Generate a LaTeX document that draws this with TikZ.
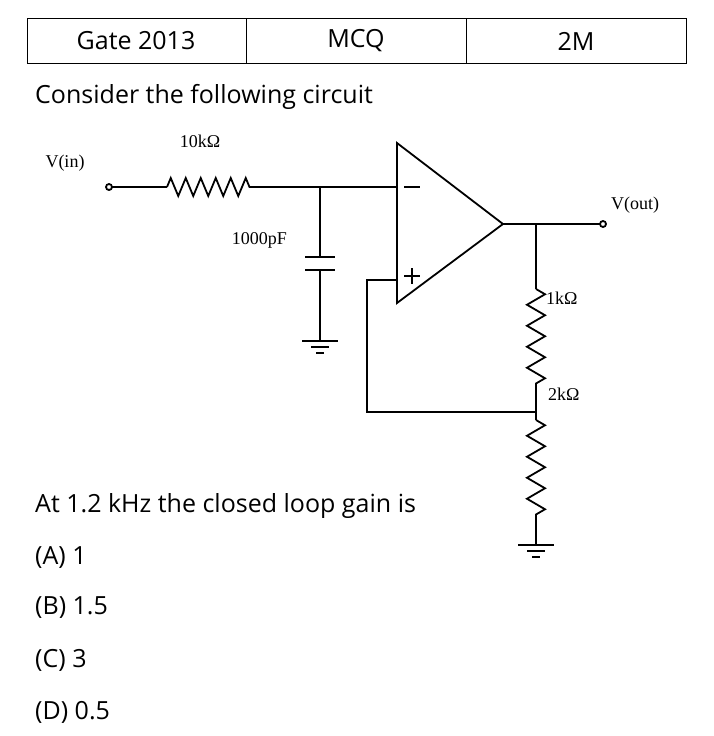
\documentclass[tikz,border=0pt]{standalone}
\usepackage{fontspec}
\setmainfont{Open Sans}
\newfontfamily\tms{Liberation Serif}
\usetikzlibrary{decorations.pathmorphing}
\begin{document}
\begin{tikzpicture}[x=1pt,y=-1pt,
  wire/.style={line width=1.8pt},
  res/.style={line width=1.8pt,decorate,decoration={zigzag,amplitude=9pt,segment length=15pt}},
  vres/.style={line width=1.8pt,decorate,decoration={zigzag,amplitude=9pt,segment length=21pt}},
  lbl/.style={font=\tms\fontsize{18}{20}\selectfont,inner sep=0pt},
  txt/.style={font=\fontsize{25}{30}\selectfont,anchor=west,inner sep=0pt},
  cell/.style={font=\fontsize{25}{30}\selectfont,inner sep=0pt}]
\useasboundingbox (0,0) rectangle (713,736);
\fill[white] (0,0) rectangle (713,736);
% table
\draw[line width=0.8pt] (27,18) rectangle (686,63);
\draw[line width=0.8pt] (246,18) -- (246,63) (466,18) -- (466,63);
\node[cell] (c1) at (136,41) {Gate 2013};
\node[cell] (c2) at (356,41) {MCQ};
\node[cell] (c3) at (576,41) {2M};
\node[txt] (q) at (35,97) {Consider the following circuit};
% coordinates
\coordinate (vin) at (109,187);
\coordinate (r1a) at (167,187);
\coordinate (r1b) at (251,187);
\coordinate (cn) at (320,187);
\coordinate (inm) at (397,187);
\coordinate (out) at (503,224);
\coordinate (on) at (536,224);
\coordinate (vout) at (603,224);
\coordinate (r2a) at (536,289);
\coordinate (fb) at (536,412);
\coordinate (r3a) at (536,420);
\coordinate (r3b) at (536,524);
% input
\draw[wire] (vin) ++(3,0) -- (r1a);
\draw[res] (r1a) -- (r1b);
\draw[wire] (r1b) -- (inm);
\draw[wire,fill=white] (vin) circle (3);
% capacitor
\draw[wire] (cn) -- (320,257);
\draw[wire] (305,257) -- (335,257) (305,270) -- (335,270);
\draw[wire] (320,270) -- (320,341);
\draw[wire] (302,341) -- (338,341) (311,347) -- (329,347) (316,353) -- (324,353);
% opamp
\draw[wire] (397,143) -- (503,224) -- (397,303) -- cycle;
\draw[wire] (404,187) -- (420,187);
\draw[wire] (404,276) -- (420,276) (412,268) -- (412,284);
% output
\draw[wire] (out) -- (600,224);
\draw[wire,fill=white] (vout) circle (3);
\draw[wire] (on) -- (r2a);
\draw[vres] (r2a) -- (536,389);
\draw[wire] (536,389) -- (r3a);
\draw[vres] (r3a) -- (r3b);
\draw[wire] (r3b) -- (536,545);
\draw[wire] (518,545) -- (554,545) (527,551) -- (545,551) (532,557) -- (540,557);
% feedback
\draw[wire] (fb) -- (367,412) -- (367,280) -- (397,280);
% labels
\node[lbl] (l1) at (200,141) {10kΩ};
\node[lbl] (l2) at (65,163) {V(in)};
\node[lbl,anchor=east] (l3) at (287,240) {1000pF};
\node[lbl,anchor=west] (l4) at (546,298) {1kΩ};
\node[lbl,anchor=west] (l5) at (548,394) {2kΩ};
\node[lbl,anchor=west] (l6) at (611,205) {V(out)};
% questions
\node[txt] (q1) at (35,506) {At 1.2 kHz the closed loop gain is};
\node[txt] (a) at (35,558) {(A) 1};
\node[txt] (b) at (35,608) {(B) 1.5};
\node[txt] (c) at (35,660) {(C) 3};
\node[txt] (d) at (35,712) {(D) 0.5};
\end{tikzpicture}
\end{document}
